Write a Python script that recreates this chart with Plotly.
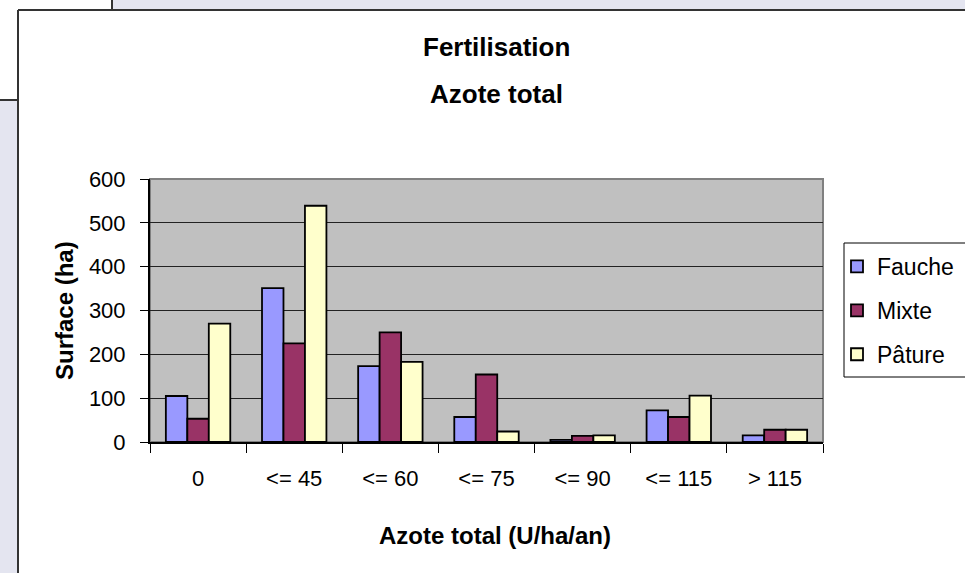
import plotly.graph_objects as go

categories = ["0", "<= 45", "<= 60", "<= 75", "<= 90", "<= 115", "> 115"]
fauche = [105, 351, 173, 57, 5, 72, 15]
mixte = [53, 225, 250, 154, 14, 57, 28]
pature = [270, 539, 183, 24, 15, 106, 28]
series_names = ["Fauche", "Mixte", "Pâture"]
series_colors = ["#9999FF", "#993366", "#FFFFCC"]
y_ticks = [0, 100, 200, 300, 400, 500, 600]

W, H = 965, 573
L, R, T, B = 150, 142, 179, 131
PW, PH = W - L - R, H - T - B

def px(x):
    return (x - L) / PW

def py(y):
    return (H - B - y) / PH

FONT = "Liberation Sans, Arial, sans-serif"
FS = 22

fig = go.Figure()
for name, vals, col in zip(series_names, [fauche, mixte, pature], series_colors):
    fig.add_trace(go.Bar(
        x=categories, y=vals, name=name, legendgroup=name,
        marker=dict(color=col, line=dict(color="#000000", width=1.8)),
    ))

shapes = [
    dict(type="rect", xref="paper", yref="paper", x0=px(112), x1=px(W + 5), y0=py(-5), y1=py(10),
         fillcolor="#e4e5f0", line=dict(width=0), layer="below"),
    dict(type="rect", xref="paper", yref="paper", x0=px(-5), x1=px(18), y0=py(100), y1=py(H + 5),
         fillcolor="#e4e5f0", line=dict(width=0), layer="below"),
    dict(type="line", xref="paper", yref="paper", x0=px(18), x1=px(W + 5), y0=py(10), y1=py(10),
         line=dict(color="#333333", width=2)),
    dict(type="line", xref="paper", yref="paper", x0=px(18), x1=px(18), y0=py(10), y1=py(H + 5),
         line=dict(color="#333333", width=2)),
    dict(type="line", xref="paper", yref="paper", x0=px(-5), x1=px(18), y0=py(100), y1=py(100),
         line=dict(color="#333333", width=2)),
    dict(type="line", xref="paper", yref="paper", x0=px(112), x1=px(112), y0=py(-5), y1=py(10),
         line=dict(color="#333333", width=2)),
    dict(type="rect", xref="paper", yref="paper", x0=0, x1=1, y0=0, y1=1,
         line=dict(color="#808080", width=2), layer="below"),
    dict(type="rect", xref="paper", yref="paper", x0=px(844), x1=px(W + 10), y0=py(377), y1=py(243),
         fillcolor="#ffffff", line=dict(color="#000000", width=1), layer="below"),
]

annotations = [
    dict(text="<b>Fertilisation</b>", xref="paper", yref="paper", x=px(497), y=py(47),
         showarrow=False, font=dict(family=FONT, size=26, color="#000000"),
         xanchor="center", yanchor="middle"),
    dict(text="<b>Azote total</b>", xref="paper", yref="paper", x=px(497), y=py(94),
         showarrow=False, font=dict(family=FONT, size=26, color="#000000"),
         xanchor="center", yanchor="middle"),
    dict(text="<b>Azote total (U/ha/an)</b>", xref="paper", yref="paper", x=px(495), y=py(535),
         showarrow=False, font=dict(family=FONT, size=24, color="#000000"),
         xanchor="center", yanchor="middle"),
    dict(text="<b>Surface (ha)</b>", xref="paper", yref="paper", x=px(64), y=py(311),
         showarrow=False, textangle=-90, font=dict(family=FONT, size=24, color="#000000"),
         xanchor="center", yanchor="middle"),
]

fig.update_layout(
    width=W, height=H,
    margin=dict(l=L, r=R, t=T, b=B, autoexpand=False),
    paper_bgcolor="#ffffff",
    plot_bgcolor="#c0c0c0",
    barmode="group", bargap=0.33, bargroupgap=0,
    font=dict(family=FONT, size=FS, color="#000000"),
    shapes=shapes,
    annotations=annotations,
    legend=dict(
        x=px(837), y=py(245), xanchor="left", yanchor="top",
        bgcolor="rgba(0,0,0,0)", borderwidth=0,
        font=dict(family=FONT, size=23, color="#000000"),
        traceorder="grouped", tracegroupgap=11,
        itemwidth=30,
    ),
    showlegend=True,
)

fig.update_xaxes(
    type="category", tickson="boundaries",
    ticks="outside", ticklen=9, tickcolor="#000000", tickwidth=1,
    showline=True, linecolor="#000000", linewidth=2,
    showgrid=False,
    tickfont=dict(family=FONT, size=FS),
    ticklabelstandoff=16,
)
fig.update_yaxes(
    range=[0, 600], tickvals=y_ticks,
    ticks="outside", ticklen=8, tickcolor="#000000", tickwidth=1,
    showline=True, linecolor="#000000", linewidth=2,
    showgrid=True, gridcolor="#222222", gridwidth=1,
    zeroline=False,
    tickfont=dict(family=FONT, size=FS),
    ticklabelstandoff=10,
)

fig.write_html("out.html", config={"displayModeBar": False},
               post_script="document.body.style.margin='0';")
